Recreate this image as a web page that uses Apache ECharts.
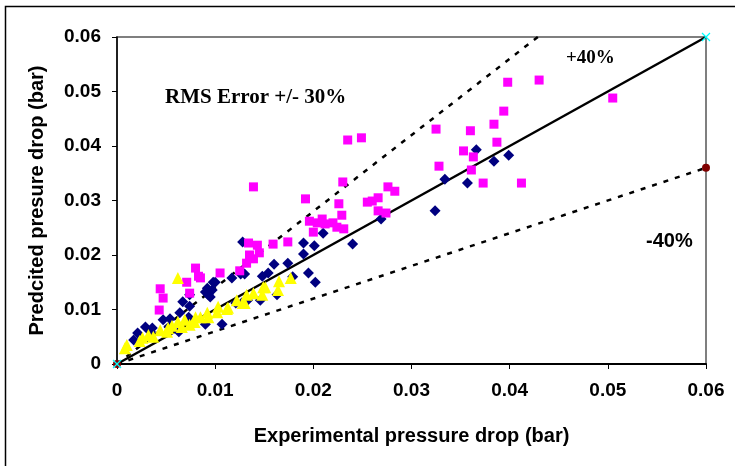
<!DOCTYPE html>
<html>
<head>
<meta charset="utf-8">
<script src="https://cdn.jsdelivr.net/npm/echarts@6/dist/echarts.min.js"></script>
<style>
html,body{margin:0;padding:0;background:#fff;}
#c{width:735px;height:466px;}
</style>
</head>
<body>
<div id="c"></div>
<script>
// Axis ticks
const xTicks = [0, 0.01, 0.02, 0.03, 0.04, 0.05, 0.06];
const yTicks = [0, 0.01, 0.02, 0.03, 0.04, 0.05, 0.06];

// Series 1: navy diamonds [experimental, predicted]
const navyPts = [
  [0.0017,0.0044],[0.0021,0.0057],[0.0029,0.0068],[0.0036,0.0066],[0.0034,0.0059],
  [0.0047,0.0081],[0.0054,0.0083],[0.0053,0.0068],[0.0063,0.0059],[0.0064,0.0094],
  [0.0073,0.0086],[0.0067,0.0114],[0.0074,0.0106],[0.0074,0.0127],[0.0090,0.0132],
  [0.0093,0.0127],[0.0095,0.0123],[0.0098,0.0150],[0.0090,0.0073],[0.0107,0.0073],
  [0.0092,0.0139],[0.0097,0.0136],[0.0100,0.0150],[0.0117,0.0158],[0.0121,0.0112],
  [0.0127,0.0112],[0.0126,0.0165],[0.0130,0.0165],[0.0128,0.0224],[0.0133,0.0117],
  [0.0146,0.0117],[0.0148,0.0161],[0.0154,0.0167],[0.0160,0.0183],[0.0174,0.0185],
  [0.0163,0.0127],[0.0179,0.0160],[0.0190,0.0202],[0.0190,0.0222],[0.0201,0.0217],
  [0.0210,0.0240],[0.0195,0.0167],[0.0202,0.0150],[0.0240,0.0220],[0.0269,0.0266],
  [0.0324,0.0281],[0.0334,0.0339],[0.0357,0.0332],[0.0366,0.0393],[0.0384,0.0372],
  [0.0399,0.0383]
];

// Series 2: magenta squares
const magentaPts = [
  [0.0043,0.0099],[0.0047,0.0121],[0.0044,0.0138],[0.0071,0.0150],[0.0074,0.0130],
  [0.0080,0.0176],[0.0083,0.0161],[0.0085,0.0158],[0.0105,0.0167],[0.0125,0.0171],
  [0.0132,0.0185],[0.0139,0.0193],[0.0135,0.0200],[0.0145,0.0204],[0.0134,0.0222],
  [0.0143,0.0218],[0.0159,0.0220],[0.0174,0.0224],[0.0139,0.0325],[0.0192,0.0303],
  [0.0196,0.0262],[0.0204,0.0259],[0.0209,0.0266],[0.0212,0.0257],[0.0200,0.0242],
  [0.0220,0.0259],[0.0224,0.0251],[0.0231,0.0248],[0.0226,0.0294],[0.0229,0.0273],
  [0.0230,0.0334],[0.0235,0.0411],[0.0249,0.0415],[0.0255,0.0297],[0.0260,0.0299],
  [0.0266,0.0305],[0.0266,0.0281],[0.0274,0.0277],[0.0276,0.0325],[0.0283,0.0317],
  [0.0325,0.0431],[0.0328,0.0363],[0.0353,0.0391],[0.0360,0.0428],[0.0361,0.0356],
  [0.0363,0.0380],[0.0373,0.0332],[0.0384,0.0440],[0.0387,0.0407],[0.0394,0.0464],
  [0.0398,0.0517],[0.0412,0.0332],[0.0430,0.0521],[0.0505,0.0488]
];

// Series 3: yellow triangles
const yellowPts = [
  [0.0008,0.0029],[0.0010,0.0035],[0.0026,0.0048],[0.0032,0.0053],[0.0037,0.0050],
  [0.0023,0.0042],[0.0044,0.0062],[0.0051,0.0059],[0.0052,0.0066],[0.0056,0.0070],
  [0.0062,0.0077],[0.0069,0.0081],[0.0066,0.0068],[0.0074,0.0072],[0.0079,0.0077],
  [0.0080,0.0086],[0.0085,0.0086],[0.0093,0.0086],[0.0092,0.0094],[0.0102,0.0095],
  [0.0103,0.0105],[0.0112,0.0101],[0.0113,0.0103],[0.0122,0.0117],[0.0128,0.0112],
  [0.0130,0.0112],[0.0132,0.0127],[0.0139,0.0130],[0.0148,0.0127],[0.0149,0.0141],
  [0.0151,0.0141],[0.0165,0.0152],[0.0164,0.0136],[0.0177,0.0158],[0.0062,0.0158]
];

// Reference lines
const perfectLine = [[0,0],[0.06,0.06]];
const plus40Line = [[0,0],[0.06,0.084]];
const minus40Line = [[0,0],[0.06,0.036]];
const cyanMarks = [[0.06,0.06],[0,0]];
const brownMarks = [[0.06,0.036],[0,0]];

const chart = echarts.init(document.getElementById('c'));
const FONT = "'Liberation Sans', Arial, sans-serif";
const SERIF = "'Liberation Serif', 'Times New Roman', serif";
const fmt = v => v === 0 ? '0' : (+v).toFixed(2);

chart.setOption({
  animation: false,
  backgroundColor: '#fff',
  grid: {left: 117, right: 29, top: 37, bottom: 102, show: true, borderColor: '#555', borderWidth: 1.5},
  xAxis: {
    type: 'value', min: xTicks[0], max: xTicks[xTicks.length-1], interval: 0.01,
    splitLine: {show: false},
    axisLine: {lineStyle: {color: '#000', width: 2}},
    axisTick: {show: true, length: 5, lineStyle: {color: '#000', width: 1}},
    axisLabel: {color: '#000', fontSize: 19, fontWeight: 'bold', fontFamily: FONT, margin: 17, formatter: fmt},
    name: 'Experimental pressure drop (bar)', nameLocation: 'middle', nameGap: 62,
    nameTextStyle: {color: '#000', fontSize: 20, fontWeight: 'bold', fontFamily: FONT}
  },
  yAxis: {
    type: 'value', min: yTicks[0], max: yTicks[yTicks.length-1], interval: 0.01,
    splitLine: {show: false},
    axisLine: {lineStyle: {color: '#000', width: 1.5}},
    axisTick: {show: true, length: 5, lineStyle: {color: '#000', width: 1}},
    axisLabel: {color: '#000', fontSize: 19, fontWeight: 'bold', fontFamily: FONT, margin: 16, formatter: fmt},
    name: 'Predcited presure drop (bar)', nameLocation: 'middle', nameGap: 70,
    nameTextStyle: {color: '#000', fontSize: 20, fontWeight: 'bold', fontFamily: FONT}
  },
  series: [
    {type: 'line', data: plus40Line, showSymbol: false, symbol: 'none', clip: true,
     lineStyle: {color: '#000', width: 2.5, type: [5, 7]}, z: 1},
    {type: 'line', data: minus40Line, showSymbol: false, symbol: 'none', clip: true,
     lineStyle: {color: '#000', width: 2.5, type: [5, 7]}, z: 1},
    {type: 'line', data: perfectLine, showSymbol: false, symbol: 'none', clip: true,
     lineStyle: {color: '#000', width: 2.5}, z: 1},
    {type: 'scatter', data: navyPts, symbol: 'diamond', symbolSize: 11,
     itemStyle: {color: '#000080', opacity: 1}, z: 3},
    {type: 'scatter', data: magentaPts, symbol: 'rect', symbolSize: 9,
     itemStyle: {color: '#FF00FF', opacity: 1}, z: 4},
    {type: 'scatter', data: yellowPts, symbol: 'triangle', symbolSize: 12,
     itemStyle: {color: '#FFFF00', opacity: 1}, z: 5},
    {type: 'scatter', data: brownMarks, symbol: 'circle', symbolSize: 8,
     itemStyle: {color: '#800000', opacity: 1}, clip: false, z: 6},
    {type: 'scatter', data: cyanMarks, symbol: 'path://M0,0L10,10M10,0L0,10', symbolSize: 8,
     itemStyle: {color: 'none', borderColor: '#00FFFF', borderWidth: 1.2, opacity: 1}, clip: false, z: 7}
  ],
  graphic: [
    {type: 'rect', silent: true, shape: {x: 5.5, y: 6.5, width: 800, height: 600},
     style: {fill: 'none', stroke: '#000', lineWidth: 1.5}, z: -1},
    {type: 'text', left: 165, top: 87,
     style: {text: 'RMS Error +/- 30%', font: "bold 21px " + SERIF, fill: '#000'}},
    {type: 'text', left: 566, top: 49,
     style: {text: '+40%', font: "bold 19px " + SERIF, fill: '#000'}},
    {type: 'text', left: 646, top: 231,
     style: {text: '-40%', font: "bold 20px " + FONT, fill: '#000'}}
  ]
});
</script>
</body>
</html>
